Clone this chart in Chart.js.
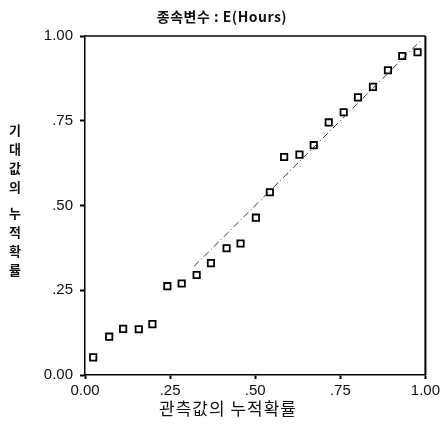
<!DOCTYPE html>
<html>
<head>
<meta charset="utf-8">
<script src="https://cdn.jsdelivr.net/npm/chart.js@4"></script>
<style>
    html, body { margin: 0; padding: 0; background: #fff; }
    #wrap { width: 443px; height: 425px; }
</style>
</head>
<body>
<div id="wrap"><canvas id="ppChart" width="443" height="425"></canvas></div>
<script>
// P-P plot data
const observedProb = [0.024, 0.071, 0.112, 0.158, 0.198, 0.242, 0.284, 0.328, 0.370, 0.416, 0.457, 0.502,
    0.543, 0.585, 0.630, 0.672, 0.716, 0.760, 0.802, 0.846, 0.890, 0.932, 0.977];
const expectedProb = [0.052, 0.113, 0.136, 0.135, 0.150, 0.262, 0.270, 0.295, 0.330, 0.374, 0.388, 0.464,
    0.539, 0.643, 0.650, 0.678, 0.745, 0.775, 0.819, 0.850, 0.899, 0.941, 0.952];
const refLine = [0.32, 0.99];
const tickValues = [0, 0.25, 0.5, 0.75, 1];
const tickLabels = ['0.00', '.25', '.50', '.75', '1.00'];

const chartTitle = '종속변수 : E(Hours)';
const xTitle = '관측값의 누적확률';
const yTitleChars = ['기', '대', '값', '의', '', '누', '적', '확', '률'];

const points = observedProb.map((x, i) => ({ x: x, y: expectedProb[i] }));
const diagonal = refLine.map(v => ({ x: v, y: v }));

function tickText(value) {
    const idx = tickValues.findIndex(t => Math.abs(t - value) < 1e-6);
    return idx >= 0 ? tickLabels[idx] : '';
}

// frame + titles drawn around the plot
const framePlugin = {
    id: 'frame',
    afterDraw(chart) {
        const { ctx, chartArea } = chart;
        ctx.save();
        ctx.strokeStyle = '#000';
        ctx.lineWidth = 1.5;
        ctx.beginPath();
        ctx.moveTo(chartArea.left, chartArea.top);
        ctx.lineTo(chartArea.right, chartArea.top);
        ctx.stroke();
        ctx.lineWidth = 2;
        ctx.beginPath();
        ctx.moveTo(chartArea.right, chartArea.top);
        ctx.lineTo(chartArea.right, chartArea.bottom);
        ctx.stroke();

        ctx.fillStyle = '#111';
        ctx.textAlign = 'center';
        ctx.textBaseline = 'middle';
        ctx.letterSpacing = '0.5px';
        ctx.font = 'bold 14px "Noto Sans CJK KR", sans-serif';
        ctx.fillText(chartTitle, 222, 17);

        ctx.letterSpacing = '1px';
        ctx.font = '17px "Noto Sans CJK KR", sans-serif';
        ctx.fillText(xTitle, 228, 409);

        ctx.letterSpacing = '0px';
        ctx.font = 'bold 13px "Noto Sans CJK KR", sans-serif';
        let y = 130;
        yTitleChars.forEach(ch => {
            if (ch === '') { y += 7; return; }
            ctx.fillText(ch, 15, y);
            y += 19;
        });
        ctx.restore();
    }
};

const tickFont = { family: '"Liberation Sans", Arial, sans-serif', size: 15 };

new Chart(document.getElementById('ppChart'), {
    type: 'scatter',
    data: {
        datasets: [
            {
                type: 'line',
                data: diagonal,
                borderColor: '#333',
                borderWidth: 1,
                borderDash: [7, 3, 1, 3],
                pointRadius: 0,
                fill: false
            },
            {
                data: points,
                pointStyle: 'rect',
                pointRadius: 4.5,
                pointBorderWidth: 1.8,
                pointBorderColor: '#000',
                pointBackgroundColor: '#fff'
            }
        ]
    },
    options: {
        responsive: false,
        animation: false,
        devicePixelRatio: 1,
        layout: { padding: { top: 36, right: 17, left: 0, bottom: 0 } },
        plugins: {
            legend: { display: false },
            tooltip: { enabled: false },
            title: { display: false }
        },
        scales: {
            x: {
                type: 'linear',
                min: 0,
                max: 1,
                afterFit(scale) { scale.height = 50; },
                afterBuildTicks(scale) { scale.ticks = tickValues.map(v => ({ value: v })); },
                ticks: { color: '#111', font: tickFont, padding: 3, maxRotation: 0, callback: tickText },
                grid: { drawOnChartArea: false, drawTicks: true, tickLength: 4, color: '#000', tickWidth: 2 },
                border: { display: true, color: '#000', width: 1.5 }
            },
            y: {
                type: 'linear',
                min: 0,
                max: 1,
                afterFit(scale) { scale.width = 85; },
                afterBuildTicks(scale) { scale.ticks = tickValues.map(v => ({ value: v })); },
                ticks: { color: '#111', font: tickFont, padding: 7, callback: tickText },
                grid: { drawOnChartArea: false, drawTicks: true, tickLength: 5, color: '#000', tickWidth: 2 },
                border: { display: true, color: '#000', width: 1.5 }
            }
        }
    },
    plugins: [framePlugin]
});
</script>
</body>
</html>
